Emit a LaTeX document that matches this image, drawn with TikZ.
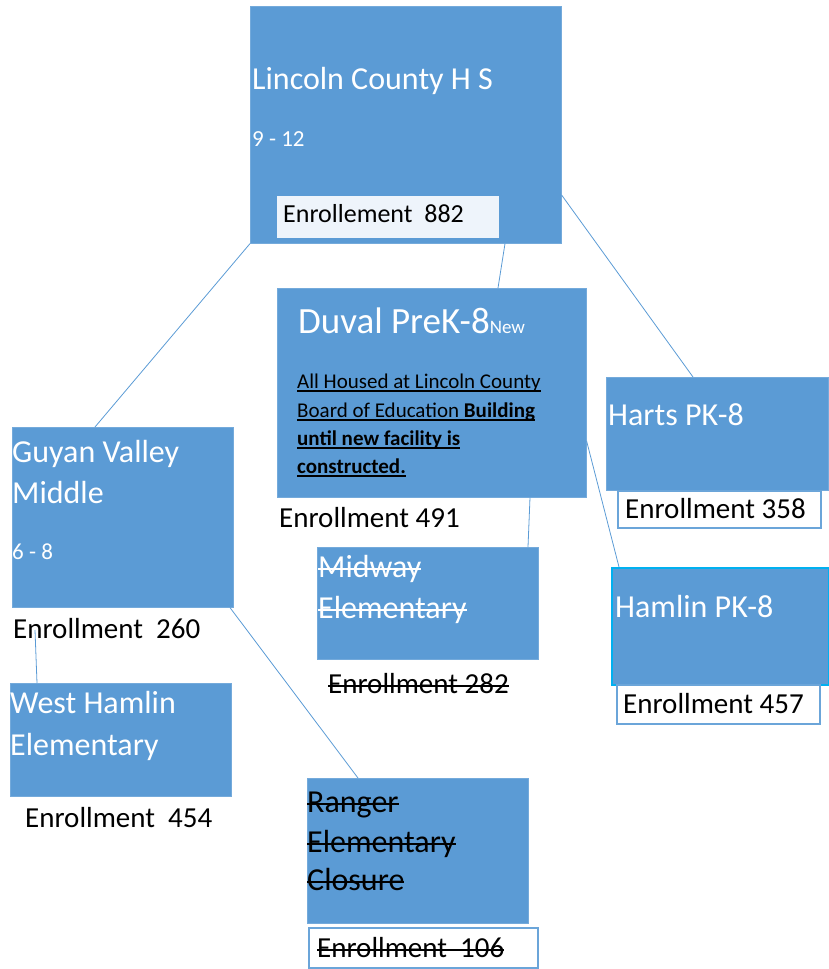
\documentclass[tikz,border=0pt]{standalone}
\usepackage{fontspec}
\setmainfont{Carlito}
\newsavebox\markbox
\newcommand{\strike}[1]{\sbox\markbox{#1}\usebox\markbox\hspace{-\wd\markbox}\rule[0.21em]{\wd\markbox}{1.8pt}}
\newcommand{\underrule}[1]{\sbox\markbox{#1}\usebox\markbox\hspace{-\wd\markbox}\rule[-3.5pt]{\wd\markbox}{1.4pt}}
\definecolor{boxblue}{HTML}{5B9BD5}
\definecolor{paleblue}{HTML}{EEF4FB}
\definecolor{hamlinrim}{HTML}{00B0F0}
\tikzset{
  school/.style={fill=boxblue, draw=boxblue!85!white, line width=0.6pt, anchor=north west, inner sep=0pt},
  tally/.style={fill=white, draw=boxblue!90!white, line width=1.6pt, anchor=north west, inner sep=0pt},
  head/.style={anchor=base west, inner sep=0pt, text=white, font=\fontsize{32}{38}\selectfont},
  grade/.style={head, font=\fontsize{23}{28}\selectfont},
  count/.style={anchor=base west, inner sep=0pt, font=\fontsize{29}{35}\selectfont},
  note/.style={anchor=base west, inner sep=0pt, font=\fontsize{21}{25}\selectfont},
  link/.style={draw=boxblue, line width=0.8pt}
}
\begin{document}
\begin{tikzpicture}[x=1pt,y=-1pt]
\useasboundingbox (0,0) rectangle (828,969);
% high school
\node (lincoln) [school, minimum width=311pt, minimum height=237pt] at (250,6) {};
\node (lincolnT) [head] at (252,89) {Lincoln County H S};
\node (lincolnG) [grade] at (252,146) {9 - 12};
\node (lincolnBox) [school, fill=paleblue, draw=none, minimum width=222pt, minimum height=42pt] at (277,196) {};
\node (lincolnEnr) [count, font=\fontsize{26}{31}\selectfont] at (283,222) {Enrollement\ \ 882};
% duval
\node (duval) [school, minimum width=309pt, minimum height=209pt] at (277,288) {};
\node (duvalT) [head, font=\fontsize{37}{44}\selectfont] at (298,333) {Duval PreK-8{\fontsize{19}{22}\selectfont New}};
\node (duvalA) [note] at (297,388) {\underrule{All Housed at Lincoln County}};
\node (duvalB) [note] at (297,417) {\underrule{Board of Education \textbf{Building}}};
\node (duvalC) [note] at (297,445) {\underrule{\textbf{until new facility is}}};
\node (duvalD) [note] at (297,473) {\underrule{\textbf{constructed.}}};
\node (duvalEnr) [count] at (279,527) {Enrollment 491};
% harts and hamlin
\node (harts) [school, minimum width=222pt, minimum height=113pt] at (606,377) {};
\node (hartsT) [head] at (608,425) {Harts PK-8};
\node (hartsBox) [tally, minimum width=203pt, minimum height=37pt] at (617,490) {};
\node (hartsEnr) [count] at (625,518) {Enrollment 358};
\node (hamlin) [school, draw=hamlinrim, line width=2pt, minimum width=217pt, minimum height=117pt] at (611,567) {};
\node (hamlinT) [head] at (615,617) {Hamlin PK-8};
\node (hamlinBox) [tally, minimum width=203pt, minimum height=39pt] at (616,684) {};
\node (hamlinEnr) [count] at (623,713) {Enrollment 457};
% guyan valley side
\node (gv) [school, minimum width=221pt, minimum height=180pt] at (12,427) {};
\node (gvA) [head] at (12,462) {Guyan Valley};
\node (gvB) [head] at (12,503) {Middle};
\node (gvG) [grade] at (12,559) {6 - 8};
\node (gvEnr) [count] at (13,638) {Enrollment\ \ 260};
\node (wh) [school, minimum width=221pt, minimum height=113pt] at (10,683) {};
\node (whA) [head] at (10,713) {West Hamlin};
\node (whB) [head] at (10,755) {Elementary};
\node (whEnr) [count] at (25,827) {Enrollment\ \ 454};
% closed schools
\node (midway) [school, minimum width=221pt, minimum height=112pt] at (317,547) {};
\node (midwayA) [head] at (318,577) {\strike{Midway}};
\node (midwayB) [head] at (318,618) {\strike{Elementary}};
\node (midwayEnr) [count] at (328,693) {\strike{Enrollment 282}};
\node (ranger) [school, minimum width=221pt, minimum height=145pt] at (307,778) {};
\node (rangerA) [head, text=black] at (307,812) {\strike{Ranger}};
\node (rangerB) [head, text=black] at (307,852) {\strike{Elementary}};
\node (rangerC) [head, text=black] at (307,890) {\strike{Closure}};
\node (rangerBox) [tally, minimum width=229pt, minimum height=40pt] at (308,927) {};
\node (rangerEnr) [count] at (317,957) {\strike{Enrollment\ \ 106}};
% connectors
\draw [link] (lincoln.south west) -- ([xshift=83pt]gv.north west);
\draw [link] ([xshift=255pt]lincoln.south west) -- ([xshift=221pt]duval.north west);
\draw [link] ([yshift=-189pt]lincoln.north east) -- ([xshift=87pt]harts.north west);
\draw [link] ([xshift=253pt]duval.south west) -- ([xshift=211pt]midway.north west);
\draw [link] ([yshift=-153pt]duval.north east) -- ([xshift=8pt]hamlin.north west);
\draw [link] ([xshift=218pt]gv.south west) -- ([xshift=51pt]ranger.north west);
\draw [link] ([xshift=22pt,yshift=8pt]gvEnr.base west) -- ([xshift=27pt]wh.north west);
\end{tikzpicture}
\end{document}
